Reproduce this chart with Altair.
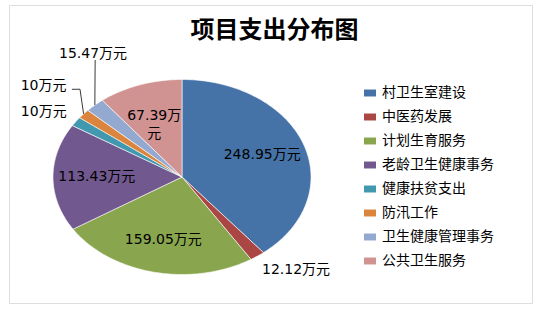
import math
import pandas as pd
import altair as alt

# ---------------- data ----------------
categories = ["村卫生室建设", "中医药发展", "计划生育服务", "老龄卫生健康事务",
              "健康扶贫支出", "防汛工作", "卫生健康管理事务", "公共卫生服务"]
values = [248.95, 12.12, 159.05, 113.43, 10, 10, 15.47, 67.39]
value_labels = ["248.95万元", "12.12万元", "159.05万元", "113.43万元",
                "10万元", "10万元", "15.47万元", "67.39万元"]
colors = ["#4572A7", "#AA4643", "#89A54E", "#71588F",
          "#4198AF", "#DB843D", "#93A9CF", "#D19392"]
title_text = "项目支出分布图"

# ---------------- layout (styles / placement, not data) ----------------
W, H = 523, 298            # plot area
CX, CY = 173, 172          # pie centre inside plot area (px)
RX, RY = 129, 97.5         # elliptical pie radii (px)
INSIDE_R = 0.66
OUTSIDE = {                # category -> (radius factor, angle shift in degrees)
    "中医药发展": (1.30, -7.1),
    "健康扶贫支出": (1.26, -2.9),
    "防汛工作": (1.42, 0.6),
    "卫生健康管理事务": (1.44, 13.9),
}
LEADERS = {                # category -> polar points (radius factor, angle shift)
    "防汛工作": [(1.0, 0.0), (1.198, 8.4), (1.24, 6.2)],
    "卫生健康管理事务": [(1.0, 0.0), (1.376, 13.2)],
}
WRAP = {"公共卫生服务": 6}
FONT = "DejaVu Sans, Noto Sans CJK SC"
CJK = "Noto Sans CJK SC"


def pt(r, deg):
    a = math.radians(deg)
    return r * math.sin(a), r * math.cos(a)


total = sum(values)
wedge_rows, label_rows, leader_rows = [], [], []
cum = 0.0
for i, (cat, v, lab) in enumerate(zip(categories, values, value_labels)):
    s = cum / total * 360.0
    cum += v
    e = cum / total * 360.0
    mid = (s + e) / 2
    n = max(2, int(math.ceil(e - s)) + 1)
    verts = [(0.0, 0.0)] + [pt(1.0, s + (e - s) * k / (n - 1)) for k in range(n)] + [(0.0, 0.0)]
    for k, (x, y) in enumerate(verts):
        wedge_rows.append({"cat": cat, "idx": k, "x": x, "y": y})
    if cat in OUTSIDE:
        r, d = OUTSIDE[cat]
    else:
        r, d = INSIDE_R, 0.0
    lx, ly = pt(r, mid + d)
    txt = lab
    if cat in WRAP:
        txt = lab[:WRAP[cat]] + "\n" + lab[WRAP[cat]:]
    label_rows.append({"cat": cat, "x": lx, "y": ly, "text": txt})
    for k, (r2, d2) in enumerate(LEADERS.get(cat, [])):
        px, py = pt(r2, mid + d2)
        leader_rows.append({"cat": cat, "idx": k, "x": px, "y": py})

wedges = pd.DataFrame(wedge_rows)
labels = pd.DataFrame(label_rows)
leaders = pd.DataFrame(leader_rows)

xscale = alt.Scale(domain=[-CX / RX, (W - CX) / RX], nice=False, zero=False)
yscale = alt.Scale(domain=[-(H - CY) / RY, CY / RY], nice=False, zero=False)
X = alt.X("x:Q", scale=xscale, axis=None)
Y = alt.Y("y:Q", scale=yscale, axis=None)

legend = alt.Legend(
    title=None, orient="none", legendX=354, legendY=81,
    labelFont=CJK, labelFontSize=14, labelColor="#000000",
    symbolType="M-1,-0.58H1V0.58H-1Z", symbolSize=144,
    symbolStrokeWidth=0, symbolOpacity=1, labelOffset=5,
    rowPadding=10, padding=0, labelLimit=300,
)

pie = alt.Chart(wedges).mark_line(
    filled=True, stroke="white", strokeWidth=0.6, strokeJoin="round"
).encode(
    x=X, y=Y,
    color=alt.Color("cat:N", scale=alt.Scale(domain=categories, range=colors),
                    sort=categories, legend=legend),
    order=alt.Order("idx:Q"),
    detail="cat:N",
)

leader_layer = alt.Chart(leaders).mark_line(color="#3a3a3a", strokeWidth=1).encode(
    x=X, y=Y, order=alt.Order("idx:Q"), detail="cat:N"
)

text_layer = alt.Chart(labels).mark_text(
    font=FONT, fontSize=14, color="#000000", align="center",
    baseline="middle", lineBreak="\n", lineHeight=18,
).encode(x=X, y=Y, text="text:N")

chart = alt.layer(pie, leader_layer, text_layer).properties(
    width=W, height=H,
    title=alt.TitleParams(title_text, font=CJK, fontSize=24, fontWeight="bold",
                          color="#000000", anchor="middle", dy=42, dx=4),
    padding={"left": 9, "top": 5, "right": 10, "bottom": 9},
    autosize=alt.AutoSizeParams(type="none"),
).configure_view(stroke="#A0A0A0", strokeWidth=1.5).configure(background="white")

chart.save("out.html", embed_options={"renderer": "svg", "actions": False})
